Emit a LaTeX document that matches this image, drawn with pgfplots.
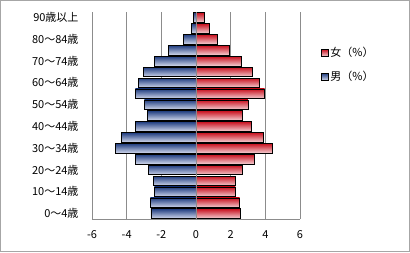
\documentclass[border=0pt]{standalone}
\usepackage{fontspec}
\setmainfont{Noto Sans CJK JP}
\usepackage{pgfplots}
\pgfplotsset{compat=1.18}
\definecolor{bdark}{HTML}{1F3C7F}
\definecolor{blight}{HTML}{D0D7EC}
\definecolor{rdark}{HTML}{C8101E}
\definecolor{rlight}{HTML}{F4CDD1}
\definecolor{gridc}{HTML}{8C8C8C}
\pgfplotsset{
  male/.style={xbar, bar width=0.88, bar shift=0pt, draw=black, line width=0.6pt, top color=bdark, bottom color=blight, forget plot},
  female/.style={xbar, bar width=0.88, bar shift=0pt, draw=black, line width=0.6pt, top color=rdark, bottom color=rlight, forget plot},
}
\begin{document}
\begin{tikzpicture}[x=1pt,y=1pt]
\useasboundingbox (0,0) rectangle (410,252);
\draw[gray!70,line width=1pt] (0.5,0.5) rectangle (409.5,251.5);
\begin{axis}[
  at={(92pt,33pt)}, anchor=south west,
  width=208pt, height=207pt, scale only axis,
  xmin=-6, xmax=6, ymin=-0.5, ymax=18.5,
  xtick={-6,-4,...,6},
  ytick={0,2,...,18},
  yticklabels={0～4歳,10～14歳,20～24歳,30～34歳,40～44歳,50～54歳,60～64歳,70～74歳,80～84歳,90歳以上},
  major tick length=0pt,
  xmajorgrids, major grid style={gridc, line width=0.8pt},
  axis lines*=left,
  axis line style={gridc, line width=0.8pt, -},
  /pgf/number format/assume math mode=true,
  tick label style={font=\fontsize{11}{12}\selectfont},
  xticklabel style={yshift=-8pt},
  yticklabel style={xshift=-10pt},
  legend style={at={(1.1,0.84)}, anchor=north west, draw=none, fill=none,
    font=\fontsize{11}{12}\selectfont, row sep=9pt, inner sep=0pt},
  legend cell align=left,
  clip=false,
]
% male
\addplot[male] coordinates {(-2.60,0)};
\addplot[male] coordinates {(-2.63,1)};
\addplot[male] coordinates {(-2.40,2)};
\addplot[male] coordinates {(-2.46,3)};
\addplot[male] coordinates {(-2.75,4)};
\addplot[male] coordinates {(-3.50,5)};
\addplot[male] coordinates {(-4.65,6)};
\addplot[male] coordinates {(-4.31,7)};
\addplot[male] coordinates {(-3.50,8)};
\addplot[male] coordinates {(-2.81,9)};
\addplot[male] coordinates {(-2.98,10)};
\addplot[male] coordinates {(-3.50,11)};
\addplot[male] coordinates {(-3.33,12)};
\addplot[male] coordinates {(-3.04,13)};
\addplot[male] coordinates {(-2.38,14)};
\addplot[male] coordinates {(-1.58,15)};
\addplot[male] coordinates {(-0.71,16)};
\addplot[male] coordinates {(-0.27,17)};
\addplot[male] coordinates {(-0.15,18)};
% female
\addplot[female] coordinates {(2.58,0)};
\addplot[female] coordinates {(2.52,1)};
\addplot[female] coordinates {(2.27,2)};
\addplot[female] coordinates {(2.27,3)};
\addplot[female] coordinates {(2.69,4)};
\addplot[female] coordinates {(3.38,5)};
\addplot[female] coordinates {(4.42,6)};
\addplot[female] coordinates {(3.90,7)};
\addplot[female] coordinates {(3.21,8)};
\addplot[female] coordinates {(2.69,9)};
\addplot[female] coordinates {(3.00,10)};
\addplot[female] coordinates {(3.96,11)};
\addplot[female] coordinates {(3.67,12)};
\addplot[female] coordinates {(3.27,13)};
\addplot[female] coordinates {(2.63,14)};
\addplot[female] coordinates {(1.94,15)};
\addplot[female] coordinates {(1.23,16)};
\addplot[female] coordinates {(0.77,17)};
\addplot[female] coordinates {(0.50,18)};
\addlegendimage{legend image code/.code={\draw[draw=black,line width=0.4pt,top color=rdark,bottom color=rlight] (0pt,-3.5pt) rectangle (7pt,3.5pt);}}
\addlegendentry{女（\%）}
\addlegendimage{legend image code/.code={\draw[draw=black,line width=0.4pt,top color=bdark,bottom color=blight] (0pt,-3.5pt) rectangle (7pt,3.5pt);}}
\addlegendentry{男（\%）}
\draw[gridc, line width=0.8pt] (axis cs:0,-0.5) -- (axis cs:0,18.5);
\end{axis}
\end{tikzpicture}
\end{document}
